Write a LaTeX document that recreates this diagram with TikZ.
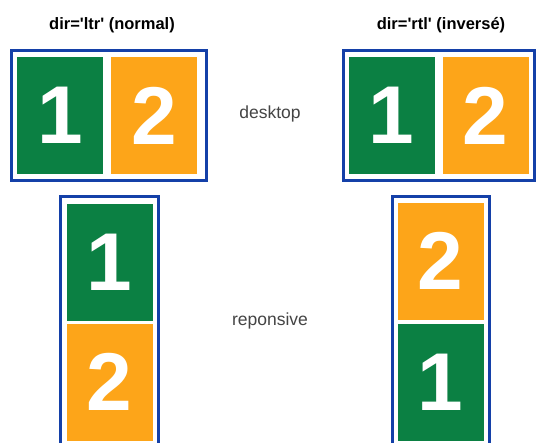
\documentclass[tikz,border=0pt]{standalone}
\usepackage{fontspec}
\setmainfont{Liberation Sans}
\newfontfamily\titlefont{Liberation Sans}
\usepackage{tikz}
\usepackage{xcolor}

\definecolor{tilegreen}{HTML}{0B8043}
\definecolor{tileorange}{HTML}{FDA519}
\definecolor{frameblue}{HTML}{1440A8}
\definecolor{labelgray}{HTML}{444444}

\begin{document}
\begin{tikzpicture}[x=1pt, y=-1pt, node distance={94pt},
  tile/.style = {inner sep=0pt, minimum width=86pt, minimum height=117pt, text=white,
    font=\fontsize{82}{82}\selectfont\bfseries},
  one/.style = {tile, fill=tilegreen},
  two/.style = {tile, fill=tileorange},
  frame/.style = {draw=frameblue, line width=3pt, inner sep=0pt},
  title/.style = {font=\titlefont\fontsize{16.5}{18}\selectfont\bfseries},
  mode/.style = {font=\fontsize{17.5}{20}\selectfont, text=labelgray}]
\clip (0,0) rectangle (537,442);
\fill[white] (0,0) rectangle (537,442);

% desktop
\node[title] (tl) at (112,25) {dir='ltr' (normal)};
\node[title] (tr) at (441,25) {dir='rtl' (inversé)};
\node[frame, minimum width=195pt, minimum height=130pt] (fl) at (109,115.5) {};
\node[frame, minimum width=191pt, minimum height=130pt] (fr) at (439,115.5) {};
\node[one] (l1) at (60,115.5) {1};
\node[two] (l2) [right of=l1] {2};
\node[one] (r1) at (391.5,115.5) {1};
\node[two] (r2) [right of=r1] {2};
\node[mode] (desk) at (270,114) {desktop};

% reponsive
\node[frame, minimum width=98pt, minimum height=264pt] (gl) at (109.5,328.5) {};
\node[frame, minimum width=97pt, minimum height=264pt] (gr) at (441,328.5) {};
\node[one] (m1) at (109.5,262) {1};
\node[two] (m2) [below of=m1, node distance=120pt] {2};
\node[two] (n2) at (440.5,261) {2};
\node[one] (n1) [below of=n2, node distance=121pt] {1};
\node[mode] (resp) at (270,321) {reponsive};

\end{tikzpicture}
\end{document}
